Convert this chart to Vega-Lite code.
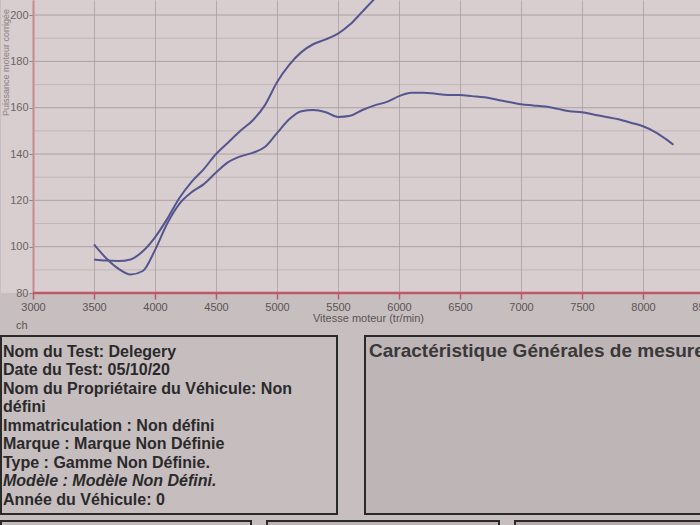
{
  "$schema": "https://vega.github.io/schema/vega-lite/v6.json",
  "background": "#c7bebf",
  "padding": 0,
  "config": {
    "font": "Liberation Sans",
    "view": {"stroke": null}
  },
  "datasets": {
    "curves": [
      {"rpm": 3500, "val": 94.5, "serie": "Puissance"},
      {"rpm": 3600, "val": 94, "serie": "Puissance"},
      {"rpm": 3700, "val": 93.8, "serie": "Puissance"},
      {"rpm": 3800, "val": 94.5, "serie": "Puissance"},
      {"rpm": 3900, "val": 98, "serie": "Puissance"},
      {"rpm": 4000, "val": 104, "serie": "Puissance"},
      {"rpm": 4100, "val": 112, "serie": "Puissance"},
      {"rpm": 4200, "val": 121, "serie": "Puissance"},
      {"rpm": 4300, "val": 128, "serie": "Puissance"},
      {"rpm": 4400, "val": 133.5, "serie": "Puissance"},
      {"rpm": 4500, "val": 140, "serie": "Puissance"},
      {"rpm": 4600, "val": 145, "serie": "Puissance"},
      {"rpm": 4700, "val": 150, "serie": "Puissance"},
      {"rpm": 4800, "val": 154.5, "serie": "Puissance"},
      {"rpm": 4900, "val": 161, "serie": "Puissance"},
      {"rpm": 5000, "val": 171, "serie": "Puissance"},
      {"rpm": 5100, "val": 178.5, "serie": "Puissance"},
      {"rpm": 5200, "val": 184, "serie": "Puissance"},
      {"rpm": 5300, "val": 187.5, "serie": "Puissance"},
      {"rpm": 5400, "val": 189.5, "serie": "Puissance"},
      {"rpm": 5500, "val": 192, "serie": "Puissance"},
      {"rpm": 5600, "val": 196, "serie": "Puissance"},
      {"rpm": 5700, "val": 201.5, "serie": "Puissance"},
      {"rpm": 5800, "val": 207, "serie": "Puissance"},
      {"rpm": 5900, "val": 212, "serie": "Puissance"},
      {"rpm": 3500, "val": 101, "serie": "Couple"},
      {"rpm": 3600, "val": 95, "serie": "Couple"},
      {"rpm": 3700, "val": 90.5, "serie": "Couple"},
      {"rpm": 3800, "val": 88, "serie": "Couple"},
      {"rpm": 3900, "val": 89.5, "serie": "Couple"},
      {"rpm": 4000, "val": 98.5, "serie": "Couple"},
      {"rpm": 4100, "val": 110, "serie": "Couple"},
      {"rpm": 4200, "val": 118.5, "serie": "Couple"},
      {"rpm": 4300, "val": 123.5, "serie": "Couple"},
      {"rpm": 4400, "val": 127, "serie": "Couple"},
      {"rpm": 4500, "val": 132, "serie": "Couple"},
      {"rpm": 4600, "val": 136.5, "serie": "Couple"},
      {"rpm": 4700, "val": 139, "serie": "Couple"},
      {"rpm": 4800, "val": 140.5, "serie": "Couple"},
      {"rpm": 4900, "val": 143, "serie": "Couple"},
      {"rpm": 5000, "val": 149, "serie": "Couple"},
      {"rpm": 5100, "val": 155, "serie": "Couple"},
      {"rpm": 5200, "val": 158.5, "serie": "Couple"},
      {"rpm": 5300, "val": 159, "serie": "Couple"},
      {"rpm": 5400, "val": 158, "serie": "Couple"},
      {"rpm": 5500, "val": 156, "serie": "Couple"},
      {"rpm": 5600, "val": 156.5, "serie": "Couple"},
      {"rpm": 5700, "val": 159, "serie": "Couple"},
      {"rpm": 5800, "val": 161, "serie": "Couple"},
      {"rpm": 5900, "val": 162.5, "serie": "Couple"},
      {"rpm": 6000, "val": 165, "serie": "Couple"},
      {"rpm": 6100, "val": 166.5, "serie": "Couple"},
      {"rpm": 6200, "val": 166.5, "serie": "Couple"},
      {"rpm": 6300, "val": 166, "serie": "Couple"},
      {"rpm": 6400, "val": 165.5, "serie": "Couple"},
      {"rpm": 6500, "val": 165.5, "serie": "Couple"},
      {"rpm": 6600, "val": 165, "serie": "Couple"},
      {"rpm": 6700, "val": 164.5, "serie": "Couple"},
      {"rpm": 6800, "val": 163.5, "serie": "Couple"},
      {"rpm": 6900, "val": 162.5, "serie": "Couple"},
      {"rpm": 7000, "val": 161.5, "serie": "Couple"},
      {"rpm": 7100, "val": 161, "serie": "Couple"},
      {"rpm": 7200, "val": 160.5, "serie": "Couple"},
      {"rpm": 7300, "val": 159.5, "serie": "Couple"},
      {"rpm": 7400, "val": 158.5, "serie": "Couple"},
      {"rpm": 7500, "val": 158, "serie": "Couple"},
      {"rpm": 7600, "val": 157, "serie": "Couple"},
      {"rpm": 7700, "val": 156, "serie": "Couple"},
      {"rpm": 7800, "val": 155, "serie": "Couple"},
      {"rpm": 7900, "val": 153.5, "serie": "Couple"},
      {"rpm": 8000, "val": 152, "serie": "Couple"},
      {"rpm": 8100, "val": 149.5, "serie": "Couple"},
      {"rpm": 8200, "val": 146, "serie": "Couple"},
      {"rpm": 8250, "val": 144, "serie": "Couple"}
    ],
    "grid": [
      {"v": 80}, {"v": 90}, {"v": 100}, {"v": 110}, {"v": 120}, {"v": 130}, {"v": 140},
      {"v": 150}, {"v": 160}, {"v": 170}, {"v": 180}, {"v": 190}, {"v": 200}
    ],
    "axe": [
      {"rpm0": 3000, "rpm1": 8500, "v": 80}
    ],
    "info": [
      {"i": 0, "c": 0, "t": "Nom du Test: Delegery", "s": "normal"},
      {"i": 1, "c": 0, "t": "Date du Test: 05/10/20", "s": "normal"},
      {"i": 2, "c": 0, "t": "Nom du Propriétaire du Véhicule: Non", "s": "normal"},
      {"i": 3, "c": 0, "t": "défini", "s": "normal"},
      {"i": 4, "c": 0, "t": "Immatriculation  : Non défini", "s": "normal"},
      {"i": 5, "c": 0, "t": "Marque  : Marque Non Définie", "s": "normal"},
      {"i": 6, "c": 0, "t": "Type  : Gamme Non Définie.", "s": "normal"},
      {"i": 7, "c": 0, "t": "Modèle  : Modèle Non Défini.", "s": "italic"},
      {"i": 8, "c": 0, "t": "Année du Véhicule: 0", "s": "normal"}
    ],
    "mesure": [
      {"i": 0, "c": 0, "t": "Caractéristique Générales de mesure"}
    ],
    "empty": [
      {"i": 0, "c": 0, "t": ""}
    ]
  },
  "spacing": 4,
  "vconcat": [
    {
      "width": 703,
      "height": 293,
      "title": {
        "text": "ch",
        "orient": "bottom",
        "anchor": "start",
        "frame": "group",
        "dx": 15,
        "offset": -3,
        "fontSize": 11,
        "fontWeight": "normal",
        "color": "#5a5556"
      },
      "view": {"fill": "#d8cdcf", "stroke": null},
      "encoding": {
        "y": {
          "type": "quantitative",
          "scale": {"domain": [80, 206.5], "nice": false, "zero": false},
          "axis": {
            "offset": -32,
            "grid": false,
            "values": [80, 90, 100, 110, 120, 130, 140, 150, 160, 170, 180, 190, 200],
            "labelExpr": "datum.value % 20 === 0 ? datum.label : ''",
            "tickOpacity": {"condition": {"test": "datum.value % 20 === 0", "value": 1}, "value": 0},
            "tickColor": "#8a8284",
            "tickSize": 4,
            "domainColor": "#c98893",
            "domainWidth": 2,
            "labelColor": "#6a6466",
            "labelFontSize": 11,
            "labelPadding": 1,
            "title": "Puissance moteur corrigée",
            "titleAngle": -90,
            "titleAlign": "center",
            "titleBaseline": "middle",
            "titleX": -28,
            "titleY": 62,
            "titleFontSize": 9,
            "titleFontWeight": "normal",
            "titleColor": "#8a8284"
          }
        }
      },
      "layer": [
        {
          "data": {"name": "grid"},
          "mark": {"type": "rule", "color": "#ab9c9f", "strokeWidth": 1},
          "encoding": {
            "x": {"datum": 3000, "type": "quantitative"},
            "x2": {"datum": 8500},
            "y": {"field": "v", "type": "quantitative"},
            "strokeOpacity": {"condition": {"test": "datum.v % 20 === 0", "value": 0.9}, "value": 0.45}
          }
        },
        {
          "data": {"name": "axe"},
          "mark": {"type": "rule", "color": "#c0586c", "strokeWidth": 2.5},
          "encoding": {
            "x": {"field": "rpm0", "type": "quantitative"},
            "x2": {"field": "rpm1"},
            "y": {"field": "v", "type": "quantitative"}
          }
        },
        {
          "data": {"name": "curves"},
          "mark": {"type": "line", "clip": true, "strokeWidth": 2, "color": "#55568f", "interpolate": "monotone"},
          "encoding": {
            "x": {
              "field": "rpm",
              "type": "quantitative",
              "scale": {"domain": [2737.7, 8500], "nice": false, "zero": false},
              "axis": {
                "grid": true,
                "values": [3000, 3500, 4000, 4500, 5000, 5500, 6000, 6500, 7000, 7500, 8000, 8500],
                "format": "d",
                "title": "Vitesse moteur (tr/min)",
                "titleX": 367,
                "labelFlush": false,
                "domain": false,
                "tickColor": "#c0586c",
                "tickWidth": 1.5,
                "tickSize": 6,
                "labelColor": "#5a5556",
                "labelFontSize": 11,
                "labelPadding": 2,
                "titleFontSize": 11,
                "titleFontWeight": "normal",
                "titleColor": "#5a5556",
                "titlePadding": 0,
                "gridColor": "#b5a7aa",
                "gridWidth": 1
              }
            },
            "y": {"field": "val", "type": "quantitative"},
            "detail": {"field": "serie"}
          }
        }
      ]
    },
    {
      "spacing": 5,
      "vconcat": [
        {
          "spacing": 26,
          "hconcat": [
            {
              "width": 336,
              "height": 178,
              "view": {"stroke": "#2a2a2a", "strokeWidth": 2, "fill": "#c5bdbe"},
              "data": {"name": "info"},
              "layer": [
                {
                  "transform": [{"filter": "datum.s === 'normal'"}],
                  "mark": {"type": "text", "align": "left", "baseline": "middle", "fontSize": 16, "fontWeight": "bold", "color": "#2b2a2b", "dx": 2},
                  "encoding": {
                    "x": {"field": "c", "type": "quantitative", "scale": {"domain": [0, 1]}, "axis": null},
                    "y": {"field": "i", "type": "quantitative", "scale": {"domain": [-0.865, 8.76], "reverse": true, "nice": false, "zero": false}, "axis": null},
                    "text": {"field": "t"}
                  }
                },
                {
                  "transform": [{"filter": "datum.s === 'italic'"}],
                  "mark": {"type": "text", "align": "left", "baseline": "middle", "fontSize": 16, "fontWeight": "bold", "fontStyle": "italic", "color": "#2b2a2b", "dx": 2},
                  "encoding": {
                    "x": {"field": "c", "type": "quantitative", "scale": {"domain": [0, 1]}, "axis": null},
                    "y": {"field": "i", "type": "quantitative", "scale": {"domain": [-0.865, 8.76], "reverse": true, "nice": false, "zero": false}, "axis": null},
                    "text": {"field": "t"}
                  }
                }
              ]
            },
            {
              "width": 360,
              "height": 178,
              "view": {"stroke": "#2a2a2a", "strokeWidth": 2, "fill": "#bdb5b6"},
              "data": {"name": "mesure"},
              "mark": {"type": "text", "align": "left", "baseline": "middle", "fontSize": 19, "fontWeight": "bold", "color": "#3a3839", "dx": 4},
              "encoding": {
                "x": {"field": "c", "type": "quantitative", "scale": {"domain": [0, 1]}, "axis": null},
                "y": {"field": "i", "type": "quantitative", "scale": {"domain": [-0.8, 8.76], "reverse": true, "nice": false, "zero": false}, "axis": null},
                "text": {"field": "t"}
              }
            }
          ]
        },
        {
          "spacing": 14,
          "hconcat": [
            {
              "width": 250, "height": 40,
              "view": {"stroke": "#2a2a2a", "strokeWidth": 2, "fill": "#c2babb"},
              "data": {"name": "empty"},
              "mark": {"type": "text"},
              "encoding": {"text": {"field": "t"}}
            },
            {
              "width": 232, "height": 40,
              "view": {"stroke": "#2a2a2a", "strokeWidth": 2, "fill": "#bbb3b4"},
              "data": {"name": "empty"},
              "mark": {"type": "text"},
              "encoding": {"text": {"field": "t"}}
            },
            {
              "width": 220, "height": 40,
              "view": {"stroke": "#2a2a2a", "strokeWidth": 2, "fill": "#b4acad"},
              "data": {"name": "empty"},
              "mark": {"type": "text"},
              "encoding": {"text": {"field": "t"}}
            }
          ]
        }
      ]
    }
  ]
}
